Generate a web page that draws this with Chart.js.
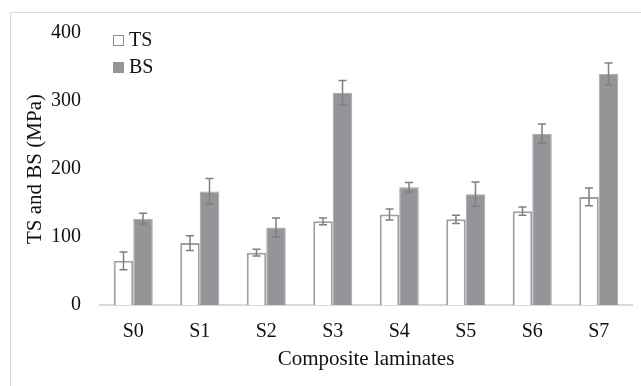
<!DOCTYPE html>
<html>
<head>
<meta charset="utf-8">
<script src="https://cdn.jsdelivr.net/npm/chart.js@4.4.1/dist/chart.umd.min.js"></script>
<style>
  html, body { margin: 0; padding: 0; background: #fff; }
  #wrap { position: relative; width: 641px; height: 386px; }
  #frame { position: absolute; left: 10px; top: 12px; width: 640px; height: 380px; border: 1px solid #d9d9d9; box-sizing: border-box; }
  #legend { position: absolute; left: 113px; top: 26px; font-family: "Liberation Serif", serif; font-size: 20px; color: #111; line-height: 27px; }
  #legend .box { display: inline-block; width: 11px; height: 11px; margin-right: 5px; vertical-align: 0px; box-sizing: border-box; }
</style>
</head>
<body>
<div id="wrap">
  <div id="frame"></div>
  <canvas id="chartCanvas" width="641" height="386"></canvas>
  <div id="legend">
    <div><span class="box" style="border:1.5px solid #8c8c8c;background:#fff"></span>TS</div>
    <div><span class="box" style="background:#939598"></span>BS</div>
  </div>
</div>
<script>
const categories = ['S0', 'S1', 'S2', 'S3', 'S4', 'S5', 'S6', 'S7'];
const tsValues = [65, 91, 77, 123, 133, 126, 138, 159];
const tsErrors = [13, 11, 5, 5, 8, 6, 6, 13];
const bsValues = [127, 167, 114, 312, 173, 163, 252, 340];
const bsErrors = [8, 19, 14, 18, 7, 18, 14, 16];
const yTicks = [0, 100, 200, 300, 400];

// error bars drawn from the value scale
const errorBars = {
  id: 'errorBars',
  afterDatasetsDraw(chart) {
    const ctx = chart.ctx;
    const y = chart.scales.y;
    const errs = [tsErrors, bsErrors];
    chart.data.datasets.forEach((ds, di) => {
      const meta = chart.getDatasetMeta(di);
      meta.data.forEach((bar, i) => {
        const v = ds.data[i];
        const top = y.getPixelForValue(v + errs[di][i]);
        const bot = y.getPixelForValue(v - errs[di][i]);
        ctx.save();
        ctx.strokeStyle = '#7f7f7f';
        ctx.lineWidth = 1.5;
        ctx.beginPath();
        ctx.moveTo(bar.x, top); ctx.lineTo(bar.x, bot);
        ctx.moveTo(bar.x - 4, top); ctx.lineTo(bar.x + 4, top);
        ctx.moveTo(bar.x - 4, bot); ctx.lineTo(bar.x + 4, bot);
        ctx.stroke();
        ctx.restore();
      });
    });
  }
};

const font = { family: 'Liberation Serif', size: 20 };
const titleFont = { family: 'Liberation Serif', size: 21 };
const ctx = document.getElementById('chartCanvas').getContext('2d');
new Chart(ctx, {
  type: 'bar',
  data: {
    labels: categories,
    datasets: [
      {
        label: 'TS',
        data: tsValues,
        backgroundColor: '#ffffff',
        borderColor: '#a0a0a0',
        borderWidth: 2,
        barPercentage: 1,
        categoryPercentage: 0.587
      },
      {
        label: 'BS',
        data: bsValues,
        backgroundColor: '#939598',
        borderColor: '#a6a7a9',
        borderWidth: 1,
        barPercentage: 1,
        categoryPercentage: 0.587
      }
    ]
  },
  options: {
    responsive: false,
    animation: false,
    layout: { padding: { left: 23, right: 9, top: 33, bottom: 0 } },
    plugins: { legend: { display: false }, tooltip: { enabled: false } },
    scales: {
      x: {
        afterFit(axis) { axis.height = 81; },
        grid: { display: false, drawTicks: false },
        border: { color: '#d9d9d9', width: 2 },
        ticks: { color: '#111', font, padding: 15 },
        title: { display: true, text: 'Composite laminates', color: '#111', font: titleFont, padding: { top: 0, bottom: 14 } }
      },
      y: {
        min: 0,
        max: 400,
        afterFit(axis) { axis.width = 77; },
        afterBuildTicks(axis) { axis.ticks = yTicks.map(v => ({ value: v })); },
        grid: { display: false, drawTicks: false },
        border: { display: false },
        ticks: { color: '#111', font, padding: 19 },
        title: { display: true, text: 'TS and BS (MPa)', color: '#111', font: titleFont, padding: { top: 0, bottom: 0 } }
      }
    }
  },
  plugins: [errorBars]
});
</script>
</body>
</html>
